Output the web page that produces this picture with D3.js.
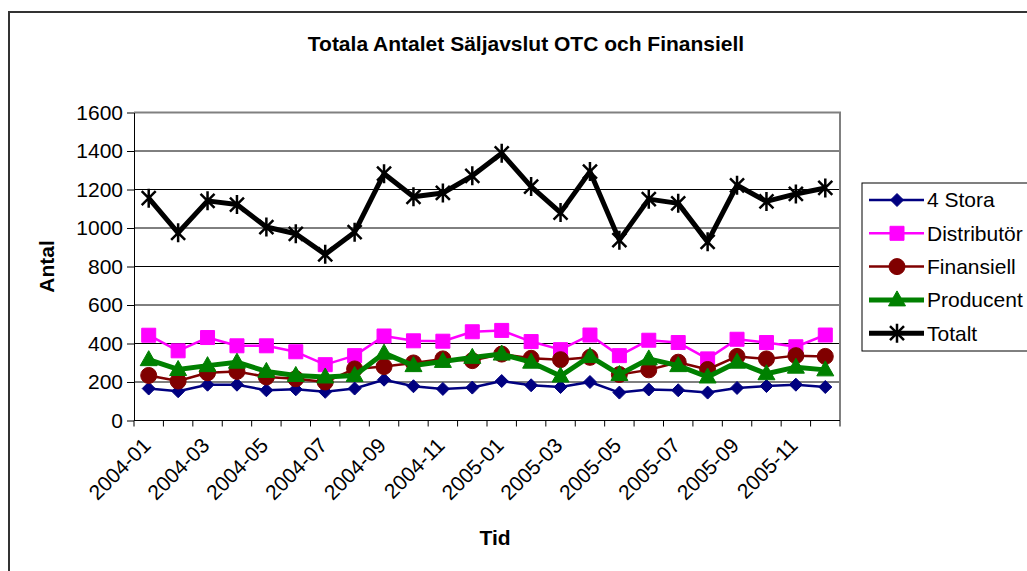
<!DOCTYPE html>
<html>
<head>
<meta charset="utf-8">
<script src="https://cdn.jsdelivr.net/npm/d3@7"></script>
<style>
  body { margin: 0; background: #fff; }
  svg { font-family: "Liberation Sans", Arial, sans-serif; }
</style>
</head>
<body>
<div class="chart"></div>
<script>
// months on the category axis
var months = ["2004-01","2004-02","2004-03","2004-04","2004-05","2004-06",
	"2004-07","2004-08","2004-09","2004-10","2004-11","2004-12",
	"2005-01","2005-02","2005-03","2005-04","2005-05","2005-06",
	"2005-07","2005-08","2005-09","2005-10","2005-11","2005-12"];

var yTicks = [0, 200, 400, 600, 800, 1000, 1200, 1400, 1600];

var seriesNames = ["4 Stora", "Distributör", "Finansiell", "Producent", "Totalt"];

var stora = [166, 152, 186, 186, 157, 162, 149, 166, 212, 178, 164, 171,
	205, 183, 174, 200, 145, 161, 157, 145, 169, 179, 186, 174];
var distributor = [443, 362, 431, 388, 388, 357, 290, 337, 439, 414, 412, 461,
	468, 410, 368, 444, 337, 417, 405, 320, 422, 405, 383, 444];
var finansiell = [234, 205, 248, 255, 226, 217, 200, 268, 280, 299, 320, 311,
	345, 323, 316, 328, 239, 263, 303, 265, 333, 320, 337, 333];
var producent = [316, 265, 285, 303, 255, 234, 226, 234, 350, 285, 307, 328,
	345, 303, 231, 333, 239, 320, 285, 226, 303, 243, 277, 263];
var totalt = [1155, 975, 1141, 1122, 1005, 970, 863, 978, 1282, 1162, 1182, 1271,
	1388, 1215, 1080, 1293, 937, 1150, 1128, 928, 1222, 1138, 1177, 1208];

var svgWidth = 1027, svgHeight = 571;
var margin = { top: 112.5, right: 187, bottom: 150.5, left: 134 };
var chart_width = svgWidth - margin.left - margin.right,
	chart_height = svgHeight - margin.top - margin.bottom;

var svg = d3.select(".chart")
	.append("svg")
	.attr("width", svgWidth)
	.attr("height", svgHeight);

// outer chart border (runs off the right and bottom of the picture)
svg.append("rect")
	.attr("x", 9).attr("y", 12)
	.attr("width", 1040).attr("height", 600)
	.attr("fill", "none")
	.attr("stroke", "#333")
	.attr("stroke-width", 2);

svg.append("text")
	.attr("x", 526).attr("y", 51)
	.attr("text-anchor", "middle")
	.style("font-size", "21px")
	.style("font-weight", "bold")
	.text("Totala Antalet Säljavslut OTC och Finansiell");

var g = svg.append("g")
	.attr("transform", "translate(" + margin.left + "," + margin.top + ")");

var x = d3.scaleBand().domain(months).range([0, chart_width]).padding(0);
var y = d3.scaleLinear().domain([0, 1600]).range([chart_height, 0]);

// gridlines
g.selectAll(".grid")
	.data(yTicks.filter(function (d) { return d > 0 && d < 1600; }))
	.enter()
	.append("line")
	.attr("x1", 0).attr("x2", chart_width)
	.attr("y1", function (d) { return y(d); })
	.attr("y2", function (d) { return y(d); })
	.attr("stroke", "#000")
	.attr("stroke-width", 1);

// plot area border (top and right, gray)
g.append("path")
	.attr("d", "M0," + y(1600) + "H" + chart_width + "V" + chart_height)
	.attr("fill", "none")
	.attr("stroke", "#808080")
	.attr("stroke-width", 2);

// y axis
var yAxis = g.append("g")
	.call(d3.axisLeft(y).tickValues(yTicks).tickFormat(d3.format("d"))
		.tickSize(7).tickSizeOuter(0).tickPadding(4));
yAxis.selectAll("text").style("font-size", "21px").attr("fill", "#000");
yAxis.selectAll("line, path").attr("stroke", "#000");

// x axis: ticks at category boundaries, labels every second month
var xAxis = g.append("g")
	.attr("transform", "translate(0," + chart_height + ")");
xAxis.append("line")
	.attr("x1", 0).attr("x2", chart_width)
	.attr("stroke", "#000");
xAxis.selectAll(".tk")
	.data(months.concat(["end"]))
	.enter()
	.append("line")
	.attr("x1", function (d) { return d === "end" ? chart_width : x(d); })
	.attr("x2", function (d) { return d === "end" ? chart_width : x(d); })
	.attr("y1", 0).attr("y2", 6)
	.attr("stroke", "#000");
xAxis.selectAll(".lbl")
	.data(months.filter(function (d, i) { return i % 2 === 0; }))
	.enter()
	.append("text")
	.attr("transform", function (d) {
		return "translate(" + (x(d) + x.bandwidth() / 2 - 2) + ",21) rotate(-45)";
	})
	.attr("text-anchor", "end")
	.attr("dy", "0.35em")
	.style("font-size", "21px")
	.text(function (d) { return d; });

// axis titles
svg.append("text")
	.attr("transform", "translate(54," + (margin.top + chart_height / 2) + ") rotate(-90)")
	.attr("text-anchor", "middle")
	.style("font-size", "21px")
	.style("font-weight", "bold")
	.text("Antal");

svg.append("text")
	.attr("x", 495).attr("y", 545)
	.attr("text-anchor", "middle")
	.style("font-size", "21px")
	.style("font-weight", "bold")
	.text("Tid");

// marker shapes
var markers = {
	diamond: "M0,-6.5L6.5,0L0,6.5L-6.5,0Z",
	square: "M-7,-7H7V7H-7Z",
	circle: d3.symbol().type(d3.symbolCircle).size(Math.PI * 64)(),
	triangle: "M0,-9L8.5,6H-8.5Z",
	star: "M-7,-7L7,7M-7,7L7,-7M0,-9.5V9.5"
};

var series = [
	{ name: seriesNames[0], values: stora, color: "#000080", width: 2.5, marker: "diamond" },
	{ name: seriesNames[1], values: distributor, color: "#FF00FF", width: 2.5, marker: "square" },
	{ name: seriesNames[2], values: finansiell, color: "#800000", width: 2.5, marker: "circle" },
	{ name: seriesNames[3], values: producent, color: "#008000", width: 5, marker: "triangle" },
	{ name: seriesNames[4], values: totalt, color: "#000000", width: 5, marker: "star" }
];

var line = d3.line()
	.x(function (d, i) { return x(months[i]) + x.bandwidth() / 2; })
	.y(function (d) { return y(d); });

function drawMarker(sel, s) {
	if (s.marker === "star") {
		sel.attr("d", markers.star)
			.attr("fill", "none")
			.attr("stroke", s.color)
			.attr("stroke-width", 2.5);
	} else {
		sel.attr("d", markers[s.marker])
			.attr("fill", s.color)
			.attr("stroke", s.color)
			.attr("stroke-width", 1);
	}
}

series.forEach(function (s) {
	g.append("path")
		.datum(s.values)
		.attr("d", line)
		.attr("fill", "none")
		.attr("stroke", s.color)
		.attr("stroke-width", s.width)
		.attr("stroke-linejoin", "round");

	g.selectAll(".m-" + s.marker)
		.data(s.values)
		.enter()
		.append("path")
		.attr("transform", function (d, i) {
			return "translate(" + (x(months[i]) + x.bandwidth() / 2) + "," + y(d) + ")";
		})
		.call(drawMarker, s);
});

// legend
var legend = svg.append("g").attr("transform", "translate(862,183)");
legend.append("rect")
	.attr("x", 0).attr("y", 0)
	.attr("width", 180).attr("height", 168)
	.attr("fill", "#fff")
	.attr("stroke", "#000")
	.attr("stroke-width", 1);

var items = legend.selectAll(".item")
	.data(series)
	.enter()
	.append("g")
	.attr("transform", function (d, i) { return "translate(0," + (17 + i * 33.3) + ")"; });

items.append("line")
	.attr("x1", 7).attr("x2", 62)
	.attr("stroke", function (d) { return d.color; })
	.attr("stroke-width", function (d) { return d.width; });

items.append("path")
	.attr("transform", "translate(35,0)")
	.each(function (d) { d3.select(this).call(drawMarker, d); });

items.append("text")
	.attr("x", 65)
	.attr("dy", "0.35em")
	.style("font-size", "21px")
	.text(function (d) { return d.name; });
</script>
</body>
</html>
